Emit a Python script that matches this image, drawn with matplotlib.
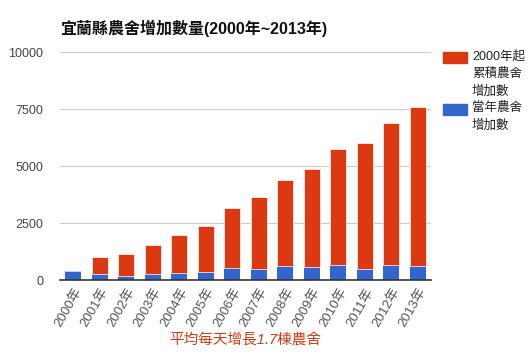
import matplotlib
matplotlib.use("Agg")
import matplotlib.pyplot as plt
from matplotlib.patches import Rectangle

plt.rcParams['font.family'] = ['Liberation Sans', 'Noto Sans CJK TC', 'DejaVu Sans']

years = ["2000年", "2001年", "2002年", "2003年", "2004年", "2005年", "2006年",
         "2007年", "2008年", "2009年", "2010年", "2011年", "2012年", "2013年"]
yearly = [408, 263, 190, 263, 322, 380, 556, 512, 640, 570, 684, 482, 684, 640]
cumulative_part = [0, 760, 965, 1285, 1665, 2002, 2615, 3142, 3759, 4325, 5088, 5540, 6215, 6961]
yticks = [0, 2500, 5000, 7500, 10000]

title = "宜蘭縣農舍增加數量(2000年~2013年)"
note = "平均每天增長1.7棟農舍"
legend_red = "2000年起\n累積農舍\n增加數"
legend_blue = "當年農舍\n增加數"

RED = "#dc3912"
BLUE = "#3366cc"

fig = plt.figure(figsize=(5.30, 3.58), dpi=100)
ax = fig.add_axes([0.113, 0.217, 0.700, 0.637])

x = list(range(len(years)))
ax.bar(x, yearly, width=0.6, color=BLUE, zorder=3)
ax.bar(x, cumulative_part, width=0.6, bottom=yearly, color=RED,
       edgecolor="white", linewidth=0.5, zorder=3)

ax.set_xlim(-0.5, len(years) - 0.5)
ax.set_ylim(0, 10000)
ax.set_yticks(yticks)
ax.set_yticklabels([str(v) for v in yticks], fontsize=9, color="#444444")
ax.grid(axis='y', color="#cccccc", linewidth=0.8, zorder=0)
ax.set_axisbelow(True)
for s in ['top', 'right', 'left']:
    ax.spines[s].set_visible(False)
ax.spines['bottom'].set_color("#333333")
ax.spines['bottom'].set_linewidth(1.2)
ax.spines['bottom'].set_zorder(4)
ax.tick_params(axis='both', length=0)
ax.tick_params(axis='y', pad=12)

ax.set_xticks(x)
ax.set_xticklabels(years, rotation=60, ha='right', rotation_mode='anchor',
                   fontsize=9.5, color="#555555")
ax.tick_params(axis='x', pad=4)

fig.text(0.113, 0.92, title, fontsize=11.5, fontweight='bold', color="#111111",
         ha='left', va='center')

fig.text(0.462, 0.05, note, fontsize=10.5, color="#c8401a", style='italic',
         ha='center', va='center')

# legend
fig.add_artist(Rectangle((443 / 530, 1 - 63 / 358), 24 / 530, 11 / 358,
                         transform=fig.transFigure, color=RED))
fig.add_artist(Rectangle((443 / 530, 1 - 115 / 358), 24 / 530, 11 / 358,
                         transform=fig.transFigure, color=BLUE))
fig.text(472 / 530, 1 - 50 / 358, legend_red, fontsize=9, color="#222222",
         ha='left', va='top', linespacing=1.6)
fig.text(472 / 530, 1 - 102 / 358, legend_blue, fontsize=9, color="#222222",
         ha='left', va='top', linespacing=1.6)

fig.savefig("out.png", dpi=100)
